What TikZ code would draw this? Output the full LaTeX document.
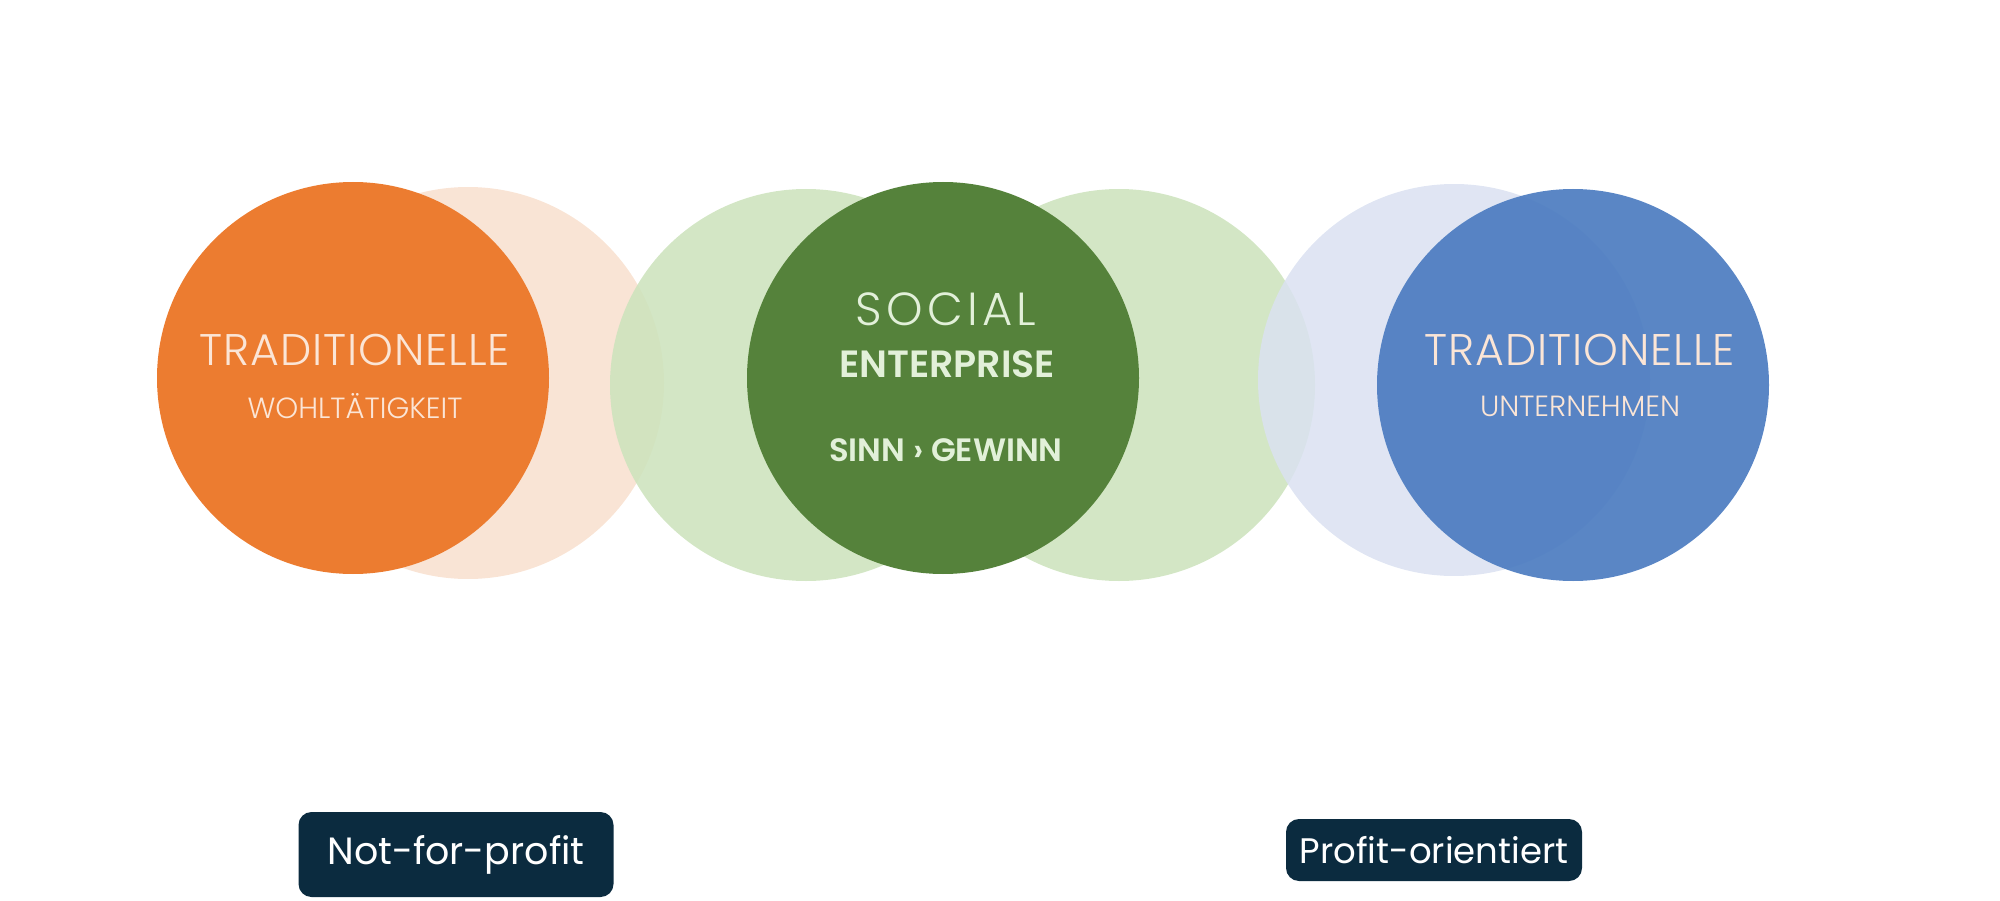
\documentclass[tikz,border=0pt]{standalone}
\usepackage{fontspec}
\setmainfont{Poppins}
\newfontfamily\poplight{Poppins Light}
\newfontfamily\popbold{Poppins SemiBold}
\definecolor{charityorange}{HTML}{EC7C30}
\definecolor{charitypale}{HTML}{F9E4D5}
\definecolor{sopale}{HTML}{CDE3BD}
\definecolor{sodarkgreen}{HTML}{55823B}
\definecolor{bizpale}{HTML}{DAE1F1}
\definecolor{bizblue}{HTML}{4D7DC1}
\definecolor{peachtext}{HTML}{FBE5D6}
\definecolor{greentext}{HTML}{E2F0D9}
\definecolor{labelnavy}{HTML}{0B2B3F}
\tikzset{
  disc/.style={circle, minimum size=3.92cm, inner sep=0pt},
  title/.style={font=\poplight\fontsize{12.6}{14}\selectfont\addfontfeatures{LetterSpace=2}},
  subtitle/.style={font=\poplight\fontsize{8.3}{10}\selectfont},
  tag/.style={fill=labelnavy, text=white, rounded corners=0.13cm, inner sep=0pt}
}
\begin{document}
\begin{tikzpicture}[y=-1cm]
\useasboundingbox (0,0) rectangle (20,9.01);
\node[disc, fill=charitypale] (charityback) at (4.68,3.83) {};
\node[disc, fill=charityorange] (charity) at (3.53,3.78) {};
\node[disc, fill=sopale, fill opacity=0.88] (soleft) at (8.06,3.85) {};
\node[disc, fill=sopale, fill opacity=0.88] (soright) at (11.19,3.85) {};
\node[disc, fill=sodarkgreen] (social) at (9.43,3.78) {};
\node[disc, fill=bizpale, fill opacity=0.85] (bizback) at (14.54,3.80) {};
\node[disc, fill=bizblue, fill opacity=0.93] (biz) at (15.73,3.85) {};
\node[title, text=peachtext] (charitytitle) at (3.55,3.50) {TRADITIONELLE};
\node[subtitle, text=peachtext] (charitysub) at (3.55,4.06) {WOHLTÄTIGKEIT};
\node[text=greentext, font=\poplight\fontsize{13.2}{16}\selectfont\addfontfeatures{LetterSpace=9}] (socialtitle) at (9.46,3.09) {SOCIAL};
\node[text=greentext, font=\popbold\fontsize{10.8}{13}\selectfont] (socialsub) at (9.47,3.64) {ENTERPRISE};
\node[text=greentext, font=\popbold\fontsize{9.2}{11}\selectfont] (socialmotto) at (9.46,4.50) {SINN › GEWINN};
\node[title, text=peachtext] (biztitle) at (15.80,3.50) {TRADITIONELLE};
\node[subtitle, text=peachtext] (bizsub) at (15.80,4.06) {UNTERNEHMEN};
\node[tag, minimum width=3.15cm, minimum height=0.85cm, font=\fontsize{10.8}{13}\selectfont] (notprofit) at (4.56,8.545) {Not-for-profit};
\node[tag, minimum width=2.96cm, minimum height=0.62cm, font=\fontsize{10.1}{12}\selectfont] (profit) at (14.34,8.50) {Profit-orientiert};
\end{tikzpicture}
\end{document}
